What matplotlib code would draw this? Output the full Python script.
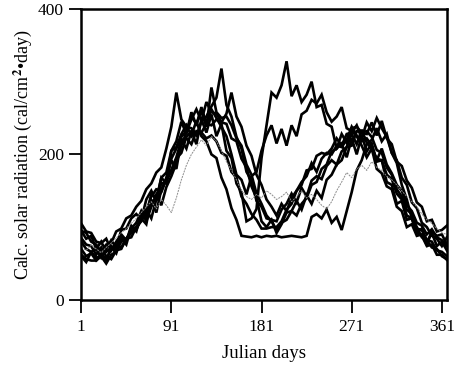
import numpy as np
import matplotlib.pyplot as plt

plt.rcParams['font.family'] = ['Liberation Serif', 'DejaVu Serif']
plt.rcParams['mathtext.fontset'] = 'stix'

# Julian day of every sample (5-day step)
days = np.arange(1, 367, 5)

# calculated daily solar radiation, one list per station/year (cal/cm2/day)
rad_a = [95, 84, 88, 70, 80, 66, 72, 64, 86, 80, 102, 96, 112, 104, 138, 120, 152, 165, 192, 180,
         220, 208, 232, 214, 248, 230, 255, 225, 242, 205, 195, 160, 148, 108, 112, 125, 195, 240, 285, 278,
         295, 328, 280, 295, 272, 282, 300, 265, 268, 242, 238, 208, 215, 196, 222, 200, 226, 204, 215, 190,
         192, 162, 158, 132, 136, 110, 112, 92, 98, 80, 92, 74, 80, 68]
rad_b = [70, 60, 64, 54, 60, 52, 74, 68, 84, 76, 100, 94, 120, 112, 146, 138, 168, 160, 205, 218,
         245, 228, 258, 240, 265, 242, 262, 250, 238, 225, 200, 172, 165, 145, 170, 176, 205, 226, 240, 215,
         235, 212, 240, 225, 255, 260, 275, 270, 282, 258, 245, 252, 265, 236, 232, 225, 212, 196, 208, 180,
         174, 156, 152, 128, 122, 100, 104, 88, 90, 76, 94, 88, 90, 76]
rad_c = [60, 52, 66, 70, 58, 70, 82, 72, 96, 98, 112, 118, 110, 138, 150, 136, 168, 175, 205, 210,
         228, 240, 226, 246, 225, 218, 200, 195, 168, 152, 126, 110, 88, 87, 86, 88, 86, 88, 87, 88,
         86, 87, 88, 87, 86, 88, 114, 118, 112, 124, 106, 114, 96, 122, 148, 178, 192, 214, 220, 236,
         218, 228, 202, 192, 168, 158, 134, 126, 106, 100, 88, 84, 74, 86]
rad_d = [105, 94, 92, 80, 78, 84, 68, 80, 90, 82, 98, 106, 122, 108, 128, 145, 130, 155, 170, 188,
         212, 230, 248, 262, 246, 272, 258, 256, 244, 242, 222, 218, 194, 182, 156, 140, 108, 100, 110, 92,
         104, 120, 122, 136, 124, 144, 132, 150, 140, 165, 172, 186, 192, 210, 212, 232, 230, 228, 244, 226,
         246, 222, 214, 190, 184, 164, 154, 134, 128, 108, 110, 94, 96, 102]
rad_e = [85, 76, 74, 62, 72, 60, 56, 68, 70, 84, 86, 100, 108, 124, 112, 138, 148, 166, 178, 194,
         202, 224, 232, 226, 245, 252, 266, 278, 318, 268, 252, 224, 208, 176, 164, 136, 128, 112, 110, 108,
         124, 132, 146, 134, 154, 142, 164, 170, 166, 184, 192, 186, 204, 210, 228, 214, 234, 216, 208, 194,
         192, 172, 166, 146, 138, 116, 112, 92, 88, 74, 76, 62, 62, 55]
rad_f = [95, 92, 80, 76, 66, 76, 78, 94, 98, 112, 116, 128, 136, 152, 160, 175, 182, 208, 238, 285,
         248, 238, 236, 228, 230, 222, 226, 218, 202, 198, 176, 168, 142, 132, 118, 110, 98, 98, 100, 100,
         108, 124, 132, 150, 158, 178, 180, 198, 202, 200, 208, 222, 212, 228, 230, 240, 222, 244, 232, 250,
         236, 224, 202, 188, 158, 138, 112, 100, 86, 82, 72, 70, 60, 56]
rad_g = [72, 68, 75, 70, 65, 72, 78, 85, 92, 98, 105, 112, 120, 128, 135, 125, 138, 130, 120, 140,
         165, 185, 200, 210, 220, 212, 225, 218, 205, 190, 178, 165, 150, 142, 138, 145, 140, 150, 145, 138,
         142, 148, 135, 142, 150, 140, 145, 138, 130, 125, 135, 150, 162, 175, 168, 180, 185, 178, 190, 182,
         178, 170, 165, 158, 150, 142, 135, 128, 118, 110, 105, 98, 92, 90]
rad_h = [80, 70, 66, 58, 60, 50, 62, 66, 80, 84, 94, 98, 110, 122, 142, 152, 150, 168, 194, 208,
         224, 232, 252, 242, 260, 238, 292, 258, 250, 252, 240, 222, 212, 186, 172, 146, 132, 116, 108, 96,
         106, 110, 122, 116, 132, 140, 158, 162, 180, 186, 204, 208, 228, 216, 236, 238, 230, 232, 224, 206,
         202, 182, 172, 152, 142, 124, 118, 98, 96, 82, 80, 68, 66, 60]
rad_i = [62, 56, 54, 54, 64, 56, 70, 74, 72, 84, 92, 100, 112, 116, 132, 140, 160, 162, 178, 196,
         220, 222, 214, 232, 230, 242, 240, 248, 244, 256, 285, 252, 238, 212, 198, 172, 158, 138, 128, 116,
         132, 122, 140, 150, 162, 170, 188, 176, 194, 202, 200, 212, 210, 220, 238, 226, 218, 222, 212, 192,
         208, 186, 174, 158, 150, 130, 122, 106, 102, 90, 97, 86, 82, 74]

black_series = [rad_a, rad_b, rad_c, rad_d, rad_e, rad_f, rad_h, rad_i]

fig = plt.figure(figsize=(4.56, 3.72), dpi=100)
ax = fig.add_axes([0.178, 0.194, 0.802, 0.782])

for vals in black_series:
    ax.plot(days, vals, color='black', lw=1.9, solid_joinstyle='miter')
ax.plot(days, rad_g, color='0.55', lw=0.7, ls=(0, (2, 1)))

ax.set_xlim(1, 366)
ax.set_ylim(0, 400)
ax.set_xticks([1, 91, 181, 271, 361])
ax.set_yticks([0, 200, 400])

for side in ['left', 'right', 'top', 'bottom']:
    ax.spines[side].set_linewidth(1.8)
ax.tick_params(direction='out', length=9, width=1.3, labelsize=12.5)
ax.tick_params(axis='x', pad=5)

ax.set_xlabel('Julian days', fontsize=13.5, labelpad=7)
ax.set_ylabel('Calc. solar radiation (cal/cm$^{\\mathbf{2}}$\u2022day)', fontsize=13, labelpad=3)

fig.savefig('out.png', dpi=100)
